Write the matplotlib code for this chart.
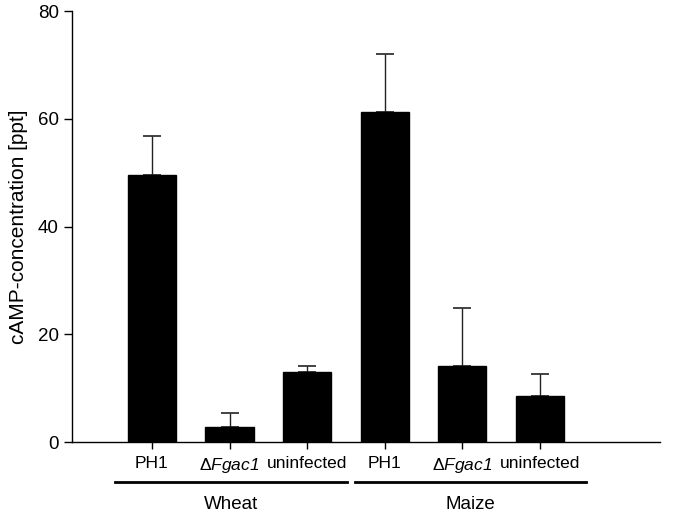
import matplotlib
matplotlib.use("Agg")
import matplotlib.pyplot as plt
import matplotlib.transforms as mtransforms

plt.rcParams['font.family'] = ['Liberation Sans', 'DejaVu Sans']
plt.rcParams['mathtext.fontset'] = 'custom'
plt.rcParams['mathtext.rm'] = 'Liberation Sans'
plt.rcParams['mathtext.it'] = 'Liberation Sans:italic'
plt.rcParams['mathtext.sf'] = 'Liberation Sans:italic'

categories = ['PH1', r'$\Delta\mathsf{Fgac1}$', 'uninfected',
              'PH1', r'$\Delta\mathsf{Fgac1}$', 'uninfected']
values = [49.5, 2.8, 13.0, 61.2, 14.1, 8.5]
errors = [7.3, 2.5, 1.1, 10.9, 10.7, 4.1]
groups = ['Wheat', 'Maize']
group_spans = [(-0.47, 2.51), (2.62, 5.60)]
yticks = [0, 20, 40, 60, 80]

fig = plt.figure(figsize=(6.75, 5.15), dpi=100)
ax = fig.add_axes([0.1067, 0.1417, 0.8713, 0.8369])

x = list(range(len(values)))
ax.bar(x, values, width=0.62, color='black', edgecolor='black', zorder=2)
ax.errorbar(x, values, yerr=[[0]*len(errors), errors], fmt='none',
            ecolor='#222222', elinewidth=1.0, capsize=6.5, capthick=1.2, zorder=1)

ax.set_xlim(-1.03, 6.55)
ax.set_ylim(0, 80)
ax.set_yticks(yticks)
ax.set_xticks(x)
ax.set_xticklabels(categories, fontsize=12.5)
ax.tick_params(axis='y', labelsize=13.5, length=6, width=1, direction='out')
ax.tick_params(axis='x', length=5, width=1, direction='out', pad=5)
for s in ['top', 'right']:
    ax.spines[s].set_visible(False)
for s in ['left', 'bottom']:
    ax.spines[s].set_linewidth(1)
ax.set_ylabel('cAMP-concentration [ppt]', fontsize=15, labelpad=7)

trans = mtransforms.blended_transform_factory(ax.transData, ax.transAxes)
for name, (a, b) in zip(groups, group_spans):
    ax.plot([a, b], [-0.093, -0.093], color='black', lw=2, transform=trans,
            clip_on=False)
    ax.text((a + b) / 2, -0.146, name, transform=trans, ha='center',
            va='center', fontsize=13.5)

fig.savefig('out.png', dpi=100)
